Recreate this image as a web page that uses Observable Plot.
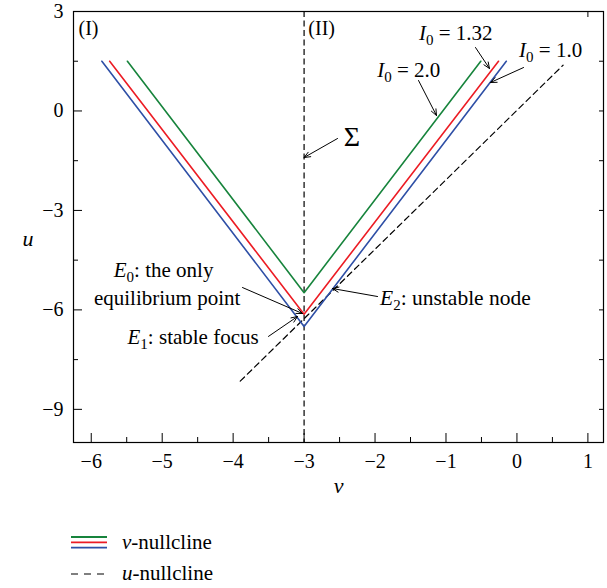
<!DOCTYPE html>
<html>
<head>
<meta charset="utf-8">
<script src="https://cdn.jsdelivr.net/npm/d3@7"></script>
<script src="https://cdn.jsdelivr.net/npm/@observablehq/plot@0.6"></script>
<style>
  html, body { margin: 0; padding: 0; background: #fff; }
  #wrap { width: 607px; height: 588px; position: relative; font-family: "Liberation Serif", "DejaVu Serif", serif; }
  #legend { position: absolute; left: 0; top: 515px; }
  svg text { font-family: "Liberation Serif", "DejaVu Serif", serif; }
</style>
</head>
<body>
<div id="wrap"><div id="chart"></div><div id="legend"></div></div>
<script>
// ---- Data ----
const xMajorTicks = [-6, -5, -4, -3, -2, -1, 0, 1];
const xMinorTicks = [-5.5, -4.5, -3.5, -2.5, -1.5, -0.5, 0.5];
const yMajorTicks = [-9, -6, -3, 0, 3];
const yMinorTicks = [-7.5, -4.5, -1.5, 1.5];

const seriesNames = ["I0 = 2.0", "I0 = 1.32", "I0 = 1.0"];
const seriesColors = ["#17843c", "#ec1c24", "#2e4fa6"];
const vLeftEnd = [-5.49, -5.74, -5.85];
const vVertex = [-3, -3, -3];
const uVertex = [-5.48, -6.13, -6.5];
const vRightEnd = [-0.51, -0.26, -0.15];
const uEnd = [1.5, 1.5, 1.5];

const uNullV = [-3.9, 0.65];
const uNullU = [-8.15, 1.38];
const sigmaV = -3;

const labelTexts = ["(I)", "(II)", "*I*_0 = 1.32", "*I*_0 = 1.0", "*I*_0 = 2.0", "\u03A3",
  "*E*_0: the only", "equilibrium point", "*E*_1: stable focus", "*E*_2: unstable node"];
const labelV = [-6.18, -2.94, -1.38, 0.03, -1.97, -2.44, -4.98, -4.93, -3.64, -1.93];
const labelU = [2.49, 2.49, 2.34, 1.82, 1.22, -0.80, -4.81, -5.66, -6.83, -5.63];
const labelAnchor = ["start", "start", "start", "start", "start", "start", "middle", "middle", "end", "start"];
const labelSize = [20, 20, 21, 21, 21, 28, 21, 21, 21, 21.5];

const arrowV1 = [-0.584, 0.093, -1.387, -2.529, -3.868, -3.502, -1.965];
const arrowU1 = [1.914, 1.31, 0.919, -0.831, -5.326, -6.80, -5.597];
const arrowV2 = [-0.387, -0.373, -1.134, -3.0, -3.022, -3.093, -2.60];
const arrowU2 = [1.28, 0.858, -0.137, -1.404, -6.11, -6.20, -5.356];

// ---- Build tables ----
const nullclineRows = seriesNames.flatMap((s, i) => [
  {series: s, v: vLeftEnd[i], u: uEnd[i]},
  {series: s, v: vVertex[i], u: uVertex[i]},
  {series: s, v: vRightEnd[i], u: uEnd[i]}
]);
const uNullRows = uNullV.map((v, i) => ({v, u: uNullU[i]}));
const labelRows = labelTexts.map((t, i) => ({t, v: labelV[i], u: labelU[i], a: labelAnchor[i], s: labelSize[i]}));
const arrowRows = arrowV1.map((v, i) => ({v1: v, u1: arrowU1[i], v2: arrowV2[i], u2: arrowU2[i]}));
const blank = () => "";
const FONT = '"Liberation Serif", "DejaVu Serif", serif';
const FS = 20;

const plot = Plot.plot({
  width: 607,
  height: 515,
  marginLeft: 73,
  marginRight: 4,
  marginTop: 11,
  marginBottom: 73,
  style: {fontFamily: FONT, fontSize: FS + "px", color: "#000", background: "#fff"},
  x: {domain: [-6.25, 1.22]},
  y: {domain: [-10, 3]},
  color: {domain: seriesNames, range: seriesColors},
  marks: [
    // tick labels
    Plot.axisX(xMajorTicks, {anchor: "bottom", tickSize: 0, tickPadding: 11, label: null, fontSize: FS, fontFamily: FONT}),
    Plot.axisY(yMajorTicks, {anchor: "left", tickSize: 0, tickPadding: 10, label: null, fontSize: FS, fontFamily: FONT}),
    // inward ticks
    Plot.axisX(xMajorTicks, {anchor: "bottom", tickSize: -9, tickFormat: blank, label: null}),
    Plot.axisX(xMinorTicks, {anchor: "bottom", tickSize: -5, tickFormat: blank, label: null}),
    Plot.axisY(yMajorTicks, {anchor: "left", tickSize: -9, tickFormat: blank, label: null}),
    Plot.axisY(yMinorTicks, {anchor: "left", tickSize: -5, tickFormat: blank, label: null}),
    Plot.axisY([...yMajorTicks, ...yMinorTicks], {anchor: "right", tickSize: -5, tickFormat: blank, label: null}),
    Plot.axisX([1], {anchor: "top", tickSize: -5, tickFormat: blank, label: null}),
    Plot.frame({stroke: "#000", strokeWidth: 1.2}),
    // Sigma line
    Plot.ruleX([sigmaV], {stroke: "#000", strokeWidth: 1.2, strokeDasharray: "6,3.5"}),
    // u-nullcline
    Plot.line(uNullRows, {x: "v", y: "u", stroke: "#000", strokeWidth: 1.2, strokeDasharray: "6,4"}),
    // v-nullclines
    Plot.line(nullclineRows, {x: "v", y: "u", z: "series", stroke: "series", strokeWidth: 1.6}),
    // annotation arrows
    Plot.arrow(arrowRows, {x1: "v1", y1: "u1", x2: "v2", y2: "u2", stroke: "#000", strokeWidth: 1, headLength: 10, headAngle: 45}),
    // annotation labels
    ...labelRows.map(r => Plot.text([r], {x: "v", y: "u", text: "t", textAnchor: r.a, fontSize: r.s, fontFamily: FONT, fill: "#000"})),
    // axis titles
    Plot.text(["u"], {frameAnchor: "left", dx: -51, dy: 12, fontStyle: "italic", fontSize: 22, fontFamily: FONT, fill: "#000"}),
    Plot.text(["\u03BD"], {frameAnchor: "bottom", dy: 50, fontStyle: "italic", fontSize: 22, fontFamily: FONT, fill: "#000"})
  ]
});

// rich text: *italic* and _subscript
const NS = "http://www.w3.org/2000/svg";
function richify(el) {
  const s = el.textContent;
  if (!/[*_]/.test(s)) return;
  el.textContent = "";
  const parts = s.split(/(\*[^*]+\*|_\w)/).filter(p => p);
  let shifted = false;
  for (const p of parts) {
    const t = document.createElementNS(NS, "tspan");
    if (p.startsWith("*")) {
      t.textContent = p.slice(1, -1);
      t.setAttribute("font-style", "italic");
      if (shifted) { t.setAttribute("dy", "-5"); shifted = false; }
    } else if (p.startsWith("_")) {
      t.textContent = p.slice(1);
      t.setAttribute("font-size", "15");
      t.setAttribute("dy", "5");
      shifted = true;
    } else {
      t.textContent = p;
      if (shifted) { t.setAttribute("dy", "-5"); shifted = false; }
    }
    el.appendChild(t);
  }
}
plot.querySelectorAll("text").forEach(richify);
document.getElementById("chart").appendChild(plot);

// ---- Legend ----
const legendNames = ["*\u03BD*-nullcline", "*u*-nullcline"];
const lg = d3.select("#legend").append("svg").attr("width", 607).attr("height", 73)
  .style("font-family", FONT).style("font-size", "21px");
seriesColors.forEach((c, i) => {
  lg.append("line").attr("x1", 71).attr("x2", 107).attr("y1", 22 + i * 5.3).attr("y2", 22 + i * 5.3)
    .attr("stroke", c).attr("stroke-width", 1.8);
});
lg.append("line").attr("x1", 71).attr("x2", 107).attr("y1", 59).attr("y2", 59)
  .attr("stroke", "#000").attr("stroke-width", 1.2).attr("stroke-dasharray", "7,6");
[27, 58].forEach((y, i) => {
  const t = lg.append("text").attr("x", 122).attr("y", y).attr("dy", "0.35em").text(legendNames[i]);
  richify(t.node());
});
</script>
</body>
</html>
